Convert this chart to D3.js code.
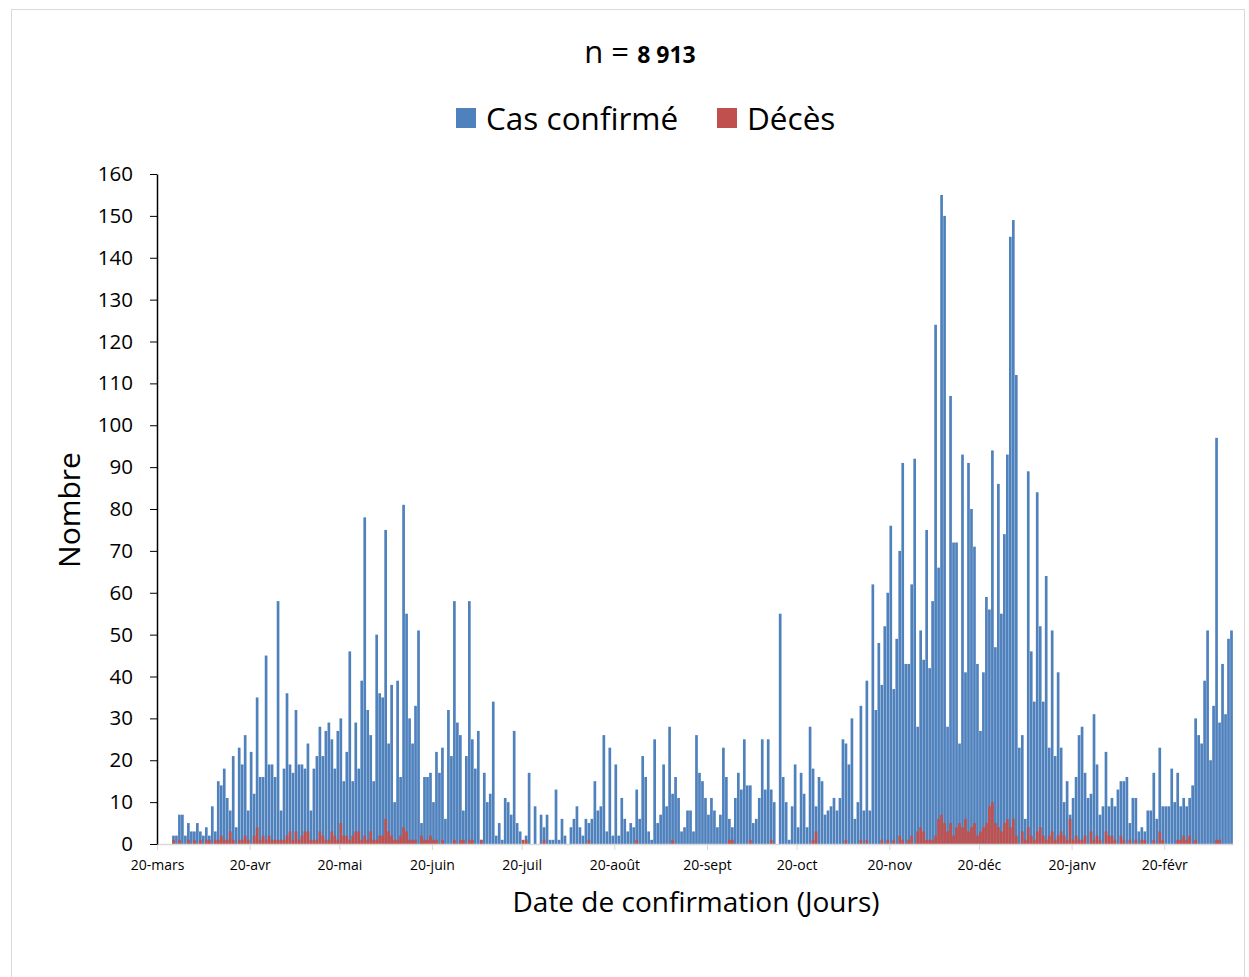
<!DOCTYPE html>
<html><head><meta charset="utf-8">
<script src="https://cdn.jsdelivr.net/npm/d3@7"></script>
<style>body{margin:0;background:#fff;} svg{display:block;font-family:'Open Sans',sans-serif;}</style>
</head><body><svg id="c" width="1249" height="977"></svg>
<script>
const startDate = "2020-03-20";
const seriesNames = ["Cas confirmé", "Décès"];
const seriesColors = ["#4f81bd", "#c0504d"];
const cases = [
0,0,0,0,0,2,2,7,7,2, 5,3,3,5,3,2,4,2,9,3, 15,14,18,11,8,21,4,23,19,26,
8,22,12,35,16,16,45,19,19,16, 58,8,18,36,19,17,32,19,19,18, 24,8,18,21,28,21,27,29,25,18,
27,30,15,22,46,15,29,18,39,78, 32,26,15,50,36,35,75,24,38,10, 39,16,81,55,30,24,33,51,5,16,
16,17,10,22,17,23,6,32,21,58, 29,26,8,21,58,25,18,27,1,17, 10,12,34,2,5,1,11,10,7,27,
5,3,0,2,17,0,9,0,7,4, 7,1,1,13,1,6,2,0,4,6, 9,4,2,6,5,6,15,8,9,26,
3,23,2,19,2,11,6,3,5,4, 13,6,21,16,3,1,25,5,7,19, 9,28,12,16,11,3,4,8,8,3,
26,17,15,11,7,11,8,4,7,23, 16,6,4,11,17,13,25,14,14,5, 6,11,25,13,25,13,10,0,55,16,
10,1,9,19,4,17,12,4,28,18, 9,16,15,7,8,9,11,8,11,25, 24,19,30,6,10,33,8,39,8,62,
32,48,38,52,60,76,37,49,70,91, 43,43,62,92,28,51,44,75,42,58, 124,66,155,150,28,107,72,72,24,93,
41,91,80,71,43,27,41,59,56,94, 47,86,55,74,93,145,149,112,23,26, 6,89,46,34,84,52,34,64,23,51,
21,41,23,10,15,7,11,16,26,28, 17,11,12,31,19,7,9,22,9,11, 9,13,15,15,16,5,11,11,3,4,
3,8,8,17,6,23,9,9,9,18, 10,17,9,11,9,11,14,30,26,24, 39,51,20,33,97,29,43,31,49,51
];
const deaths = [
0,0,0,0,0,1,0,1,0,0, 1,0,1,0,1,0,1,1,0,1, 1,2,1,1,3,1,0,1,1,2,
1,0,2,4,1,2,1,2,1,1, 1,1,1,2,3,1,3,1,2,3, 3,1,1,1,3,2,1,1,3,2,
1,5,2,2,1,2,3,3,1,2, 1,3,1,1,2,2,6,3,2,1, 1,2,4,3,1,1,1,0,2,1,
1,2,1,1,0,1,0,0,0,1, 0,1,1,0,1,1,0,0,1,0, 0,0,0,0,0,0,0,0,0,0,
0,0,1,1,0,0,0,0,0,1, 0,0,0,0,0,0,0,0,0,0, 0,0,0,0,1,0,0,0,0,0,
0,0,0,0,0,0,0,0,0,0, 1,0,0,0,0,0,0,0,0,0, 0,0,1,0,0,0,0,0,0,0,
0,0,0,0,0,0,0,0,0,0, 0,1,1,0,0,0,0,0,1,0, 0,0,0,0,0,1,0,0,0,0,
0,0,0,0,0,0,0,0,0,1, 3,0,0,0,0,0,0,0,0,0, 1,0,0,0,0,1,0,1,0,0,
0,0,1,0,1,0,1,0,2,1, 0,1,2,0,3,4,3,1,1,1, 2,6,7,5,3,5,2,4,5,4,
6,3,4,5,2,3,4,5,9,10, 5,4,3,5,6,4,6,2,0,3, 1,4,2,1,3,4,2,1,2,3,
1,2,3,2,1,6,1,2,1,1, 2,0,3,1,2,1,0,3,2,2, 1,0,2,1,0,1,0,1,0,1,
1,0,0,1,0,3,1,0,0,0, 0,1,1,2,1,2,0,1,0,0, 0,0,0,0,1,1,0,0,0,0
];
const tickDates = ["2020-03-20","2020-04-20","2020-05-20","2020-06-20","2020-07-20","2020-08-20",
  "2020-09-20","2020-10-20","2020-11-20","2020-12-20","2021-01-20","2021-02-20"];
const tickLabels = ["20-mars","20-avr","20-mai","20-juin","20-juil","20-août",
  "20-sept","20-oct","20-nov","20-déc","20-janv","20-févr"];
const yTicks = [0,10,20,30,40,50,60,70,80,90,100,110,120,130,140,150,160];
const totalLabel = "8 913";

const FONT = "'Open Sans', sans-serif";
const svg = d3.select("#c");
const parse = d3.utcParse("%Y-%m-%d");
const t0 = parse(startDate);
const dates = cases.map((_, i) => d3.utcDay.offset(t0, i));
const tEnd = d3.utcDay.offset(t0, cases.length);

const x = d3.scaleUtc().domain([t0, tEnd]).range([157, 1233]);
const y = d3.scaleLinear().domain([0, 160]).range([844, 174]);
const step = x(dates[1]) - x(dates[0]);

// outer frame
svg.append("rect").attr("x", 11.5).attr("y", 9.5).attr("width", 1233).attr("height", 975)
  .attr("fill", "none").attr("stroke", "#d9d9d9").attr("stroke-width", 1);

// title
const title = svg.append("text").attr("x", 640).attr("y", 63).attr("text-anchor", "middle").attr("fill", "#000");
title.append("tspan").attr("font-size", 31).text("n = ");
title.append("tspan").attr("font-size", 23).attr("font-weight", "bold").text(totalLabel);

// legend
const leg = svg.append("g");
const legX = [456, 717];
seriesNames.forEach((n, i) => {
  leg.append("rect").attr("x", legX[i]).attr("y", 108).attr("width", 20).attr("height", 20).attr("fill", seriesColors[i]);
  leg.append("text").attr("x", legX[i] + 30).attr("y", 130).attr("font-size", 31.5).attr("fill", "#000").text(n);
});

// bars
svg.append("g").selectAll("rect").data(cases).join("rect")
  .attr("x", (d, i) => x(dates[i]) + 0.15)
  .attr("width", step - 0.3)
  .attr("y", d => y(d))
  .attr("height", d => y(0) - y(d))
  .attr("fill", seriesColors[0]);
svg.append("g").selectAll("rect").data(deaths).join("rect")
  .attr("x", (d, i) => x(dates[i]) + 0.15)
  .attr("width", step - 0.3)
  .attr("y", d => y(d))
  .attr("height", d => y(0) - y(d))
  .attr("fill", seriesColors[1]);

// x axis
const xAxis = d3.axisBottom(x)
  .tickValues(tickDates.map(parse))
  .tickFormat((d, i) => tickLabels[i])
  .tickSizeInner(6).tickSizeOuter(0).tickPadding(8);
const gx = svg.append("g").attr("transform", "translate(0,844)").call(xAxis);
gx.select(".domain").attr("stroke", "#d9d9d9").attr("stroke-width", 1.5);
gx.selectAll(".tick line").attr("stroke", "#d9d9d9");
gx.selectAll(".tick text").attr("font-size", 14).attr("fill", "#000").attr("dy", "0.85em")
  .attr("font-family", FONT);

// y axis
const yAxis = d3.axisLeft(y).tickValues(yTicks).tickSizeInner(7).tickSizeOuter(0).tickPadding(17);
const gy = svg.append("g").attr("transform", "translate(157,0)").call(yAxis);
gy.select(".domain").attr("stroke", "#000").attr("stroke-width", 1.5);
gy.selectAll(".tick line").attr("stroke", "#000");
gy.selectAll(".tick text").attr("font-size", 20.5).attr("fill", "#000")
  .attr("font-family", FONT);

// axis titles
svg.append("text").attr("transform", "translate(80,510) rotate(-90)").attr("text-anchor", "middle")
  .attr("font-size", 30).attr("fill", "#000").text("Nombre");
svg.append("text").attr("x", 696).attr("y", 912).attr("text-anchor", "middle")
  .attr("font-size", 28).attr("fill", "#000").text("Date de confirmation (Jours)");
</script>
</body></html>
